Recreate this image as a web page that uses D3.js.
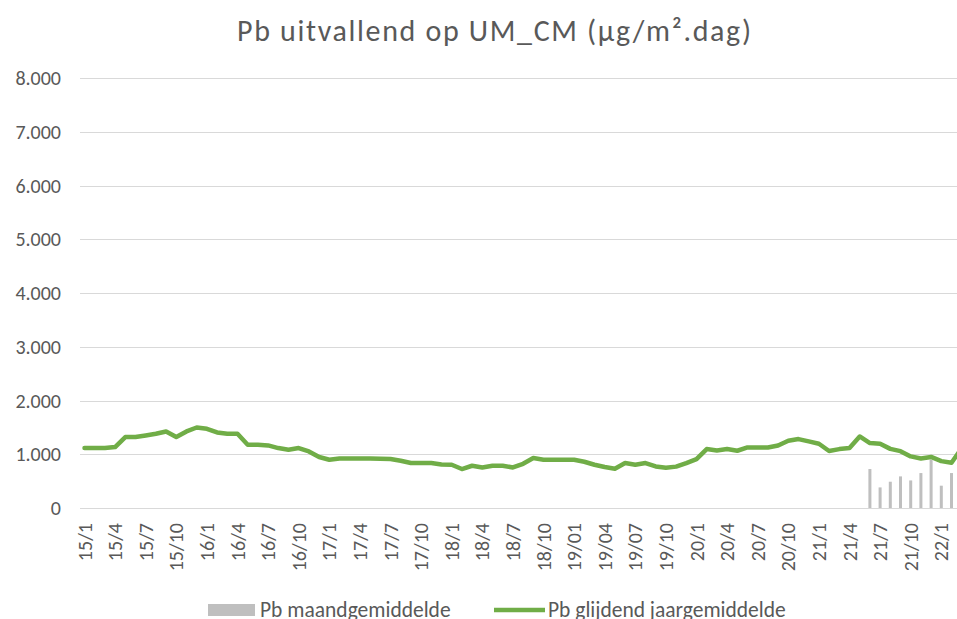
<!DOCTYPE html>
<meta charset="utf-8">
<script src="https://d3js.org/d3.v7.min.js"></script>
<html>
<head>
<style>
  body { margin: 0; background: #fff; }
  text { font-family: Calibri, Carlito, Lato, sans-serif; fill: #595959; }
</style>
</head>
<body>
<div id="chart"></div>
<script>
// month labels (yy/m), Excel shows every 3rd one
var months = [
  "15/1","15/2","15/3","15/4","15/5","15/6","15/7","15/8","15/9","15/10","15/11","15/12",
  "16/1","16/2","16/3","16/4","16/5","16/6","16/7","16/8","16/9","16/10","16/11","16/12",
  "17/1","17/2","17/3","17/4","17/5","17/6","17/7","17/8","17/9","17/10","17/11","17/12",
  "18/1","18/2","18/3","18/4","18/5","18/6","18/7","18/8","18/9","18/10","18/11","18/12",
  "19/01","19/02","19/03","19/04","19/05","19/06","19/07","19/08","19/09","19/10","19/11","19/12",
  "20/1","20/2","20/3","20/4","20/5","20/6","20/7","20/8","20/9","20/10","20/11","20/12",
  "21/1","21/2","21/3","21/4","21/5","21/6","21/7","21/8","21/9","21/10","21/11","21/12",
  "22/1","22/2","22/3"
];

// Pb glijdend jaargemiddelde
var yearAvg = [
  1115, 1115, 1115, 1134, 1320, 1320, 1350, 1381, 1424, 1320, 1424, 1498,
  1474, 1405, 1381, 1381, 1177, 1177, 1164, 1115, 1084, 1115, 1052, 948,
  898, 922, 922, 922, 922, 916, 910, 879, 836, 836, 836, 811,
  805, 725, 786, 755, 786, 786, 755, 823, 929, 898, 898, 898,
  898, 860, 805, 762, 731, 836, 805, 836, 774, 750, 770, 836,
  910, 1096, 1071, 1096, 1065, 1127, 1127, 1127, 1164, 1251, 1282, 1239,
  1195, 1060, 1096, 1115, 1331, 1208, 1195, 1100, 1058, 960, 922, 950,
  872, 842, 1110
];

// Pb maandgemiddelde (only measured from 21/6)
var barMonths = ["21/6","21/7","21/8","21/9","21/10","21/11","21/12","22/1","22/2"];
var barValues = [725, 383, 489, 588, 513, 650, 898, 415, 650];

var yTicks = [0, 1000, 2000, 3000, 4000, 5000, 6000, 7000, 8000];

var width = 957, height = 619;
var margin = {top: 78, left: 80, bottom: 111};
var step = 10.2;

var svg = d3.select("#chart")
  .append("svg")
    .attr("width", width)
    .attr("height", height);

var x = d3.scaleBand()
    .domain(months)
    .range([margin.left - 0.6, margin.left - 0.6 + months.length * step]);

var y = d3.scaleLinear()
    .domain([0, 8000])
    .range([height - margin.bottom, margin.top]);

var nl = d3.formatLocale({decimal: ",", thousands: ".", grouping: [3], currency: ["€", ""]});
var fmt = nl.format(",.0f");

// gridlines
svg.append("g")
  .selectAll("line")
  .data(yTicks)
  .enter().append("line")
    .attr("x1", margin.left)
    .attr("x2", width)
    .attr("y1", function(d) { return Math.round(y(d)) + 0.5; })
    .attr("y2", function(d) { return Math.round(y(d)) + 0.5; })
    .attr("stroke", "#d9d9d9")
    .attr("stroke-width", 1);

// y axis labels
svg.append("g")
  .selectAll("text")
  .data(yTicks)
  .enter().append("text")
    .attr("x", 61)
    .attr("y", function(d) { return y(d); })
    .attr("dy", "0.35em")
    .attr("text-anchor", "end")
    .style("font-size", "20px")
    .text(function(d) { return fmt(d); });

// x axis labels, rotated
svg.append("g")
  .selectAll("text")
  .data(months.filter(function(d, i) { return i % 3 === 0; }))
  .enter().append("text")
    .attr("transform", function(d) {
      return "translate(" + (x(d) + x.bandwidth() / 2) + "," + 523 + ") rotate(-90)";
    })
    .attr("dy", "0.35em")
    .attr("text-anchor", "end")
    .style("font-size", "20px")
    .text(function(d) { return d; });

// bars
var barW = 3;
svg.append("g")
  .selectAll("rect")
  .data(barMonths)
  .enter().append("rect")
    .attr("x", function(d) { return x(d) + x.bandwidth() / 2 - barW / 2; })
    .attr("y", function(d, i) { return y(barValues[i]); })
    .attr("width", barW)
    .attr("height", function(d, i) { return y(0) - y(barValues[i]); })
    .attr("fill", "#bfbfbf");

// line
var line = d3.line()
    .x(function(d, i) { return x(months[i]) + x.bandwidth() / 2; })
    .y(function(d) { return y(d); });

svg.append("path")
    .datum(yearAvg)
    .attr("d", line)
    .attr("fill", "none")
    .attr("stroke", "#70ad47")
    .attr("stroke-width", 4.5)
    .attr("stroke-linejoin", "round")
    .attr("stroke-linecap", "round");

// title
svg.append("text")
    .attr("x", 494)
    .attr("y", 41)
    .attr("text-anchor", "middle")
    .attr("textLength", 514)
    .attr("lengthAdjust", "spacing")
    .style("font-size", "30px")
    .text("Pb uitvallend op UM_CM (µg/m².dag)");

// legend
var legend = svg.append("g");
legend.append("rect")
    .attr("x", 208)
    .attr("y", 604)
    .attr("width", 47)
    .attr("height", 12)
    .attr("fill", "#bfbfbf");
legend.append("text")
    .attr("x", 260)
    .attr("y", 617)
    .style("font-size", "21.5px")
    .text("Pb maandgemiddelde");
legend.append("line")
    .attr("x1", 494)
    .attr("x2", 545)
    .attr("y1", 610)
    .attr("y2", 610)
    .attr("stroke", "#70ad47")
    .attr("stroke-width", 4.5);
legend.append("text")
    .attr("x", 548)
    .attr("y", 617)
    .style("font-size", "21.5px")
    .text("Pb glijdend jaargemiddelde");
</script>
</body>
</html>
